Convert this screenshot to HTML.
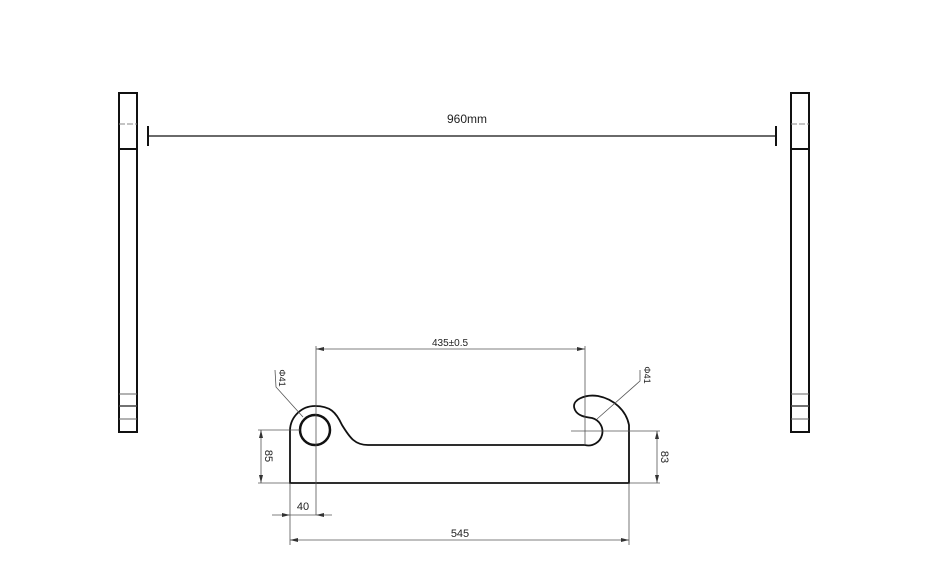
<!DOCTYPE html>
<html><head><style>body{margin:0;background:#fff}svg{display:block}text{font-family:"Liberation Sans",sans-serif;fill:#222}</style></head>
<body><svg width="940" height="579" viewBox="0 0 940 579">
<g fill="none" stroke="#111">
<rect x="119" y="93" width="18" height="339" stroke-width="2"/>
<line x1="119" y1="149" x2="137" y2="149" stroke-width="2"/>
<line x1="119" y1="124" x2="137" y2="124" stroke-width="1" stroke="#888" stroke-dasharray="6,2"/>
<line x1="119" y1="394" x2="137" y2="394" stroke-width="1" stroke="#666"/>
<line x1="119" y1="406" x2="137" y2="406" stroke-width="1.5" stroke="#444"/>
<line x1="119" y1="419" x2="137" y2="419" stroke-width="1" stroke="#666"/>
<rect x="791" y="93" width="18" height="339" stroke-width="2"/>
<line x1="791" y1="149" x2="809" y2="149" stroke-width="2"/>
<line x1="791" y1="124" x2="809" y2="124" stroke-width="1" stroke="#888" stroke-dasharray="6,2"/>
<line x1="791" y1="394" x2="809" y2="394" stroke-width="1" stroke="#666"/>
<line x1="791" y1="406" x2="809" y2="406" stroke-width="1.5" stroke="#444"/>
<line x1="791" y1="419" x2="809" y2="419" stroke-width="1" stroke="#666"/>
<line x1="148" y1="136" x2="776" y2="136" stroke-width="1.2"/>
<line x1="148" y1="126" x2="148" y2="146" stroke-width="2"/>
<line x1="776" y1="126" x2="776" y2="146" stroke-width="2"/>
<!-- part -->
<path d="M290 483 L629 483 L629 425 A40 36 0 0 0 598 396 C585 394 570 400 575 410 C578 416 585 417 592 418 A13 13 0 0 1 585 445 L368 445 C355 445 350 438 342 425 C336 412 330 406 315 406 A25 25 0 0 0 290 430 Z" stroke-width="1.8"/>
<circle cx="315" cy="430" r="15" stroke-width="2.5"/>
<g stroke-width="0.8" stroke="#555">
<line x1="316" y1="346" x2="316" y2="515"/>
<line x1="585" y1="346" x2="585" y2="445"/>
<line x1="316" y1="349" x2="585" y2="349"/>
<line x1="258" y1="430" x2="300" y2="430"/>
<line x1="258" y1="483" x2="290" y2="483"/>
<line x1="261" y1="430" x2="261" y2="483"/>
<line x1="571" y1="431" x2="660" y2="431"/>
<line x1="629" y1="483" x2="660" y2="483"/>
<line x1="657" y1="431" x2="657" y2="483"/>
<line x1="290" y1="483" x2="290" y2="545"/>
<line x1="629" y1="483" x2="629" y2="545"/>
<line x1="290" y1="540" x2="629" y2="540"/>
<line x1="272" y1="515" x2="332" y2="515"/>
<polyline points="275,370 276,387 303,417"/>
<polyline points="640,370 640,381 597,419"/>
</g>
<g fill="#333" stroke="none">
<path d="M316 349 l8 -2 v4z M585 349 l-8 -2 v4z M290 540 l8 -2 v4z M629 540 l-8 -2 v4z M261 430 l-2 8 h4z M261 483 l-2 -8 h4z M657 431 l-2 8 h4z M657 483 l-2 -8 h4z M290 515 l-8 -2 v4z M316 515 l8 -2 v4z"/>
</g>
</g>
<text x="467" y="123" font-size="12" text-anchor="middle">960mm</text>
<text x="450" y="346" font-size="10" text-anchor="middle" fill="#555">435±0.5</text>
<text x="460" y="537" font-size="11" text-anchor="middle" fill="#555">545</text>
<text x="303" y="510" font-size="11" text-anchor="middle" fill="#555">40</text>
<text transform="translate(265,456) rotate(90)" font-size="11" text-anchor="middle" fill="#555">85</text>
<text transform="translate(661,457) rotate(90)" font-size="11" text-anchor="middle" fill="#555">83</text>
<text transform="translate(279,378) rotate(90)" font-size="9" text-anchor="middle" fill="#555">Φ41</text>
<text transform="translate(644,375) rotate(90)" font-size="9" text-anchor="middle" fill="#555">Φ41</text>
</svg></body></html>
